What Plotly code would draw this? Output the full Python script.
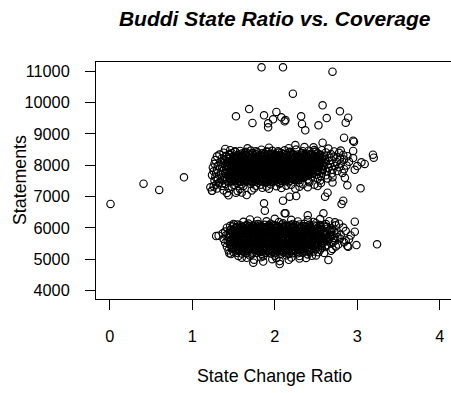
import plotly.graph_objects as go

# ---- data (State Change Ratio, Statements) ----
left_outliers = [(0.01, 6763), (0.41, 7411), (0.60, 7210), (0.90, 7615)]

high_outliers = [
    (1.84, 11127), (2.10, 11127), (2.70, 10986), (2.22, 10284), (1.69, 9795),
    (1.53, 9562), (1.73, 9349), (1.87, 9594), (1.92, 9339), (1.92, 9211),
    (1.98, 9467), (2.02, 9700), (2.08, 9531), (2.12, 9403), (2.13, 9444),
    (2.32, 9562), (2.33, 9317), (2.37, 9115), (2.53, 9275), (2.58, 9914),
    (2.63, 9508), (2.79, 9722), (2.86, 9358), (2.89, 9518), (2.84, 8879),
    (2.95, 8783), (2.25, 8646), (2.58, 8720), (3.19, 8337), (3.20, 8241),
    (3.09, 8040), (2.95, 8455), (2.96, 8752), (2.47, 8573), (2.48, 8486),
]

middle_points = [
    (1.24, 7187), (1.22, 7296), (1.32, 7423), (1.44, 7040), (1.53, 7123),
    (1.66, 7050), (1.87, 6785), (1.88, 6549), (2.10, 6868), (2.18, 6996),
    (2.26, 7018), (2.61, 6996), (2.64, 7123), (2.83, 6868), (2.81, 6762),
    (2.88, 7360), (3.04, 7264), (2.12, 6466), (2.13, 6466), (2.40, 6402),
    (2.59, 6466),
]

lower_outliers = [
    (1.32, 5750), (1.29, 5741), (1.37, 5827), (3.24, 5476), (2.65, 4975),
    (2.06, 4847), (1.74, 4888), (1.79, 6229), (1.51, 6101), (2.73, 6178),
    (2.97, 6198), (2.99, 5454), (2.89, 5400), (1.45, 5189), (2.97, 5878),
]

edge_points = [
    (1.40, 8520), (1.67, 8540), (1.93, 8560), (2.17, 8545), (2.36, 8580), (2.65, 8530), (2.80, 8470),
    (1.85, 7280), (2.25, 7250), (2.40, 7300), (2.70, 7450), (2.85, 7600),
    (1.70, 6270), (2.00, 6290), (2.20, 6260), (2.40, 6250), (2.55, 6280),
    (1.60, 5050), (2.30, 5020), (2.50, 5120), (2.60, 5200),
]

upper_cluster = [
    (1.46, 8480), (1.58, 8455), (1.71, 8470), (1.84, 8495), (1.97, 8460), (2.12, 8475), (2.26, 8500), (2.41, 8465), (2.57, 8480), (2.72, 8440),
    (1.38, 8400), (1.52, 8425), (1.64, 8395), (1.79, 8415), (1.92, 8430), (2.05, 8405), (2.19, 8420), (2.33, 8390), (2.47, 8425), (2.62, 8410), (2.78, 8395),
    (1.33, 8340), (1.45, 8360), (1.56, 8345), (1.68, 8370), (1.77, 8350), (1.88, 8365), (1.99, 8340), (2.10, 8355), (2.22, 8370), (2.31, 8345), (2.44, 8360), (2.55, 8340), (2.68, 8355), (2.83, 8330),
    (1.30, 8285), (1.41, 8300), (1.50, 8280), (1.60, 8295), (1.70, 8305), (1.80, 8275), (1.90, 8290), (2.00, 8310), (2.09, 8280), (2.18, 8295), (2.28, 8270), (2.38, 8300), (2.49, 8285), (2.60, 8305), (2.72, 8275), (2.88, 8290),
    (1.36, 8225), (1.46, 8240), (1.55, 8215), (1.63, 8235), (1.72, 8245), (1.81, 8220), (1.89, 8230), (1.97, 8250), (2.06, 8215), (2.15, 8235), (2.24, 8225), (2.33, 8245), (2.43, 8210), (2.54, 8230), (2.66, 8240), (2.79, 8215), (2.95, 8230),
    (1.28, 8165), (1.39, 8180), (1.49, 8160), (1.58, 8175), (1.66, 8185), (1.74, 8155), (1.83, 8170), (1.91, 8190), (2.00, 8160), (2.08, 8175), (2.17, 8150), (2.26, 8180), (2.35, 8165), (2.45, 8185), (2.56, 8155), (2.69, 8170), (2.84, 8180),
    (1.34, 8105), (1.44, 8120), (1.53, 8095), (1.61, 8115), (1.69, 8125), (1.78, 8100), (1.86, 8110), (1.95, 8130), (2.03, 8095), (2.12, 8115), (2.21, 8105), (2.30, 8125), (2.40, 8090), (2.50, 8110), (2.62, 8120), (2.75, 8100), (2.90, 8115), (3.05, 8095),
    (1.27, 8045), (1.38, 8060), (1.48, 8035), (1.57, 8055), (1.65, 8065), (1.73, 8040), (1.82, 8050), (1.90, 8070), (1.99, 8035), (2.07, 8055), (2.16, 8045), (2.25, 8065), (2.34, 8030), (2.44, 8050), (2.55, 8060), (2.67, 8040), (2.80, 8055),
    (1.31, 7985), (1.42, 8000), (1.52, 7975), (1.60, 7995), (1.68, 8005), (1.77, 7980), (1.85, 7990), (1.94, 8010), (2.02, 7975), (2.11, 7995), (2.20, 7985), (2.29, 8005), (2.39, 7970), (2.49, 7990), (2.60, 8000), (2.73, 7980), (2.87, 7995), (3.00, 7975),
    (1.25, 7925), (1.36, 7940), (1.47, 7915), (1.56, 7935), (1.64, 7945), (1.72, 7920), (1.81, 7930), (1.89, 7950), (1.98, 7915), (2.06, 7935), (2.15, 7925), (2.24, 7945), (2.33, 7910), (2.43, 7930), (2.53, 7940), (2.65, 7920), (2.78, 7935),
    (1.30, 7865), (1.41, 7880), (1.51, 7855), (1.59, 7875), (1.67, 7885), (1.76, 7860), (1.84, 7870), (1.93, 7890), (2.01, 7855), (2.10, 7875), (2.19, 7865), (2.28, 7885), (2.37, 7850), (2.47, 7870), (2.58, 7880), (2.70, 7860), (2.84, 7875), (2.97, 7855),
    (1.26, 7805), (1.37, 7820), (1.46, 7795), (1.55, 7815), (1.63, 7825), (1.71, 7800), (1.80, 7810), (1.88, 7830), (1.97, 7795), (2.05, 7815), (2.14, 7805), (2.23, 7825), (2.32, 7790), (2.42, 7810), (2.52, 7820), (2.63, 7800), (2.76, 7815),
    (1.29, 7745), (1.40, 7760), (1.50, 7735), (1.58, 7755), (1.66, 7765), (1.75, 7740), (1.83, 7750), (1.92, 7770), (2.00, 7735), (2.09, 7755), (2.18, 7745), (2.27, 7765), (2.36, 7730), (2.46, 7750), (2.57, 7760), (2.69, 7740), (2.82, 7755),
    (1.24, 7685), (1.35, 7700), (1.45, 7675), (1.54, 7695), (1.62, 7705), (1.70, 7680), (1.79, 7690), (1.87, 7710), (1.96, 7675), (2.04, 7695), (2.13, 7685), (2.22, 7705), (2.31, 7670), (2.41, 7690), (2.51, 7700), (2.62, 7680),
    (1.28, 7625), (1.39, 7640), (1.49, 7615), (1.57, 7635), (1.65, 7645), (1.74, 7620), (1.82, 7630), (1.91, 7650), (1.99, 7615), (2.08, 7635), (2.17, 7625), (2.26, 7645), (2.35, 7610), (2.45, 7630), (2.56, 7640), (2.70, 7620),
    (1.31, 7565), (1.42, 7580), (1.52, 7555), (1.60, 7575), (1.69, 7585), (1.78, 7560), (1.86, 7570), (1.95, 7590), (2.03, 7555), (2.12, 7575), (2.21, 7565), (2.30, 7585), (2.40, 7550), (2.52, 7570), (2.64, 7580),
    (1.27, 7505), (1.37, 7520), (1.47, 7495), (1.56, 7515), (1.64, 7525), (1.73, 7500), (1.81, 7510), (1.90, 7530), (1.99, 7495), (2.08, 7515), (2.18, 7505), (2.29, 7525), (2.41, 7490), (2.55, 7510),
    (1.33, 7445), (1.44, 7460), (1.54, 7435), (1.63, 7455), (1.72, 7465), (1.80, 7440), (1.89, 7450), (1.98, 7470), (2.07, 7435), (2.17, 7455), (2.30, 7445), (2.42, 7460), (2.56, 7430),
    (1.29, 7385), (1.40, 7400), (1.50, 7375), (1.60, 7395), (1.71, 7405), (1.83, 7380), (1.95, 7390), (2.06, 7410), (2.20, 7375), (2.34, 7395), (2.48, 7380),
    (1.26, 7325), (1.36, 7340), (1.48, 7315), (1.62, 7335), (1.77, 7345), (1.90, 7320), (2.02, 7330), (2.14, 7350), (2.30, 7315), (2.52, 7335),
    (1.30, 7255), (1.44, 7270), (1.58, 7245), (1.75, 7265), (1.93, 7250), (2.08, 7275),
    (1.24, 7185), (1.38, 7200), (1.55, 7175), (1.72, 7195),
    (1.42, 7115), (1.60, 7130),
]

upper_core = [
    (1.52, 8445), (1.65, 8430), (1.77, 8450), (1.90, 8435), (2.04, 8445), (2.18, 8430), (2.34, 8450), (2.50, 8435),
    (1.48, 8385), (1.60, 8375), (1.73, 8390), (1.85, 8380), (1.97, 8370), (2.08, 8390), (2.20, 8380), (2.38, 8375), (2.52, 8385),
    (1.45, 8325), (1.55, 8315), (1.65, 8330), (1.75, 8320), (1.85, 8310), (1.95, 8325), (2.05, 8315), (2.14, 8330), (2.23, 8320), (2.33, 8310), (2.43, 8325), (2.55, 8315),
    (1.41, 8265), (1.51, 8255), (1.59, 8270), (1.68, 8260), (1.76, 8250), (1.85, 8265), (1.94, 8255), (2.02, 8270), (2.11, 8260), (2.20, 8250), (2.29, 8265), (2.38, 8255), (2.48, 8270), (2.59, 8260),
    (1.44, 8205), (1.54, 8195), (1.62, 8210), (1.70, 8200), (1.79, 8190), (1.87, 8205), (1.96, 8195), (2.04, 8210), (2.13, 8200), (2.22, 8190), (2.31, 8205), (2.40, 8195), (2.50, 8210), (2.61, 8200),
    (1.39, 8145), (1.48, 8135), (1.57, 8150), (1.65, 8140), (1.74, 8130), (1.82, 8145), (1.91, 8135), (1.99, 8150), (2.08, 8140), (2.17, 8130), (2.26, 8145), (2.35, 8135), (2.45, 8150), (2.56, 8140),
    (1.43, 8085), (1.52, 8075), (1.61, 8090), (1.69, 8080), (1.78, 8070), (1.86, 8085), (1.95, 8075), (2.03, 8090), (2.12, 8080), (2.21, 8070), (2.30, 8085), (2.39, 8075), (2.49, 8090), (2.60, 8080),
    (1.46, 8025), (1.56, 8015), (1.64, 8030), (1.73, 8020), (1.81, 8010), (1.90, 8025), (1.98, 8015), (2.07, 8030), (2.16, 8020), (2.25, 8010), (2.34, 8025), (2.44, 8015), (2.55, 8030),
    (1.42, 7965), (1.51, 7955), (1.60, 7970), (1.68, 7960), (1.77, 7950), (1.85, 7965), (1.94, 7955), (2.02, 7970), (2.11, 7960), (2.20, 7950), (2.29, 7965), (2.38, 7955), (2.48, 7970), (2.59, 7960),
    (1.45, 7905), (1.55, 7895), (1.63, 7910), (1.72, 7900), (1.80, 7890), (1.89, 7905), (1.97, 7895), (2.06, 7910), (2.15, 7900), (2.24, 7890), (2.33, 7905), (2.42, 7895), (2.52, 7910),
    (1.41, 7845), (1.50, 7835), (1.59, 7850), (1.67, 7840), (1.76, 7830), (1.84, 7845), (1.93, 7835), (2.01, 7850), (2.10, 7840), (2.19, 7830), (2.28, 7845), (2.37, 7835), (2.47, 7850), (2.58, 7840),
    (1.44, 7785), (1.54, 7775), (1.62, 7790), (1.71, 7780), (1.79, 7770), (1.88, 7785), (1.96, 7775), (2.05, 7790), (2.14, 7780), (2.23, 7770), (2.32, 7785), (2.41, 7775), (2.51, 7790),
    (1.40, 7725), (1.49, 7715), (1.58, 7730), (1.66, 7720), (1.75, 7710), (1.83, 7725), (1.92, 7715), (2.00, 7730), (2.09, 7720), (2.18, 7710), (2.27, 7725), (2.36, 7715), (2.46, 7730),
    (1.43, 7665), (1.53, 7655), (1.61, 7670), (1.70, 7660), (1.78, 7650), (1.87, 7665), (1.95, 7655), (2.04, 7670), (2.13, 7660), (2.22, 7650), (2.31, 7665), (2.40, 7655),
    (1.46, 7605), (1.56, 7595), (1.65, 7610), (1.73, 7600), (1.82, 7590), (1.90, 7605), (1.99, 7595), (2.08, 7610), (2.17, 7600), (2.26, 7590), (2.35, 7605),
    (1.42, 7545), (1.51, 7535), (1.60, 7550), (1.69, 7540), (1.77, 7530), (1.86, 7545), (1.95, 7535), (2.04, 7550), (2.14, 7540), (2.24, 7530),
    (1.48, 7485), (1.58, 7475), (1.68, 7490), (1.77, 7480), (1.86, 7470), (1.95, 7485), (2.04, 7475), (2.13, 7490),
]

upper_dense = [
    (1.64, 8335), (1.73, 8345), (1.83, 8328), (1.92, 8340), (2.01, 8332), (2.10, 8346), (2.19, 8330), (2.28, 8342), (2.37, 8334), (2.46, 8344),
    (1.55, 8275), (1.645, 8284), (1.74, 8268), (1.83, 8280), (1.915, 8272), (2.005, 8286), (2.095, 8270), (2.185, 8282), (2.275, 8274), (2.365, 8285), (2.455, 8268), (2.54, 8279),
    (1.50, 8215), (1.585, 8224), (1.675, 8208), (1.765, 8220), (1.855, 8212), (1.935, 8226), (2.025, 8210), (2.115, 8222), (2.205, 8214), (2.295, 8225), (2.385, 8208), (2.475, 8219), (2.57, 8212),
    (1.53, 8155), (1.62, 8164), (1.705, 8148), (1.795, 8160), (1.875, 8152), (1.955, 8166), (2.045, 8150), (2.13, 8162), (2.22, 8154), (2.31, 8165), (2.40, 8148), (2.50, 8159),
    (1.48, 8095), (1.57, 8104), (1.655, 8088), (1.74, 8100), (1.825, 8092), (1.905, 8106), (1.99, 8090), (2.075, 8102), (2.165, 8094), (2.255, 8105), (2.345, 8088), (2.445, 8099), (2.55, 8092),
    (1.52, 8035), (1.605, 8044), (1.69, 8028), (1.775, 8040), (1.86, 8032), (1.945, 8046), (2.03, 8030), (2.115, 8042), (2.205, 8034), (2.295, 8045), (2.39, 8028), (2.49, 8039),
    (1.47, 7975), (1.56, 7984), (1.645, 7968), (1.73, 7980), (1.815, 7972), (1.895, 7986), (1.98, 7970), (2.065, 7982), (2.155, 7974), (2.245, 7985), (2.335, 7968), (2.43, 7979), (2.54, 7972),
    (1.51, 7915), (1.595, 7924), (1.68, 7908), (1.765, 7920), (1.85, 7912), (1.935, 7926), (2.02, 7910), (2.105, 7922), (2.195, 7914), (2.285, 7925), (2.375, 7908), (2.475, 7919),
    (1.46, 7855), (1.55, 7864), (1.635, 7848), (1.72, 7860), (1.805, 7852), (1.885, 7866), (1.97, 7850), (2.055, 7862), (2.145, 7854), (2.235, 7865), (2.325, 7848), (2.42, 7859), (2.52, 7852),
    (1.50, 7795), (1.585, 7804), (1.67, 7788), (1.755, 7800), (1.84, 7792), (1.925, 7806), (2.01, 7790), (2.095, 7802), (2.185, 7794), (2.275, 7805), (2.365, 7788), (2.46, 7799),
    (1.45, 7735), (1.54, 7744), (1.625, 7728), (1.71, 7740), (1.795, 7732), (1.875, 7746), (1.96, 7730), (2.045, 7742), (2.135, 7734), (2.225, 7745), (2.315, 7728), (2.41, 7739),
    (1.49, 7675), (1.575, 7684), (1.66, 7668), (1.745, 7680), (1.83, 7672), (1.915, 7686), (2.00, 7670), (2.085, 7682), (2.175, 7674), (2.265, 7685), (2.355, 7668),
    (1.53, 7615), (1.615, 7624), (1.70, 7608), (1.785, 7620), (1.865, 7612), (1.95, 7626), (2.035, 7610), (2.125, 7622), (2.215, 7614), (2.305, 7625),
    (1.47, 7555), (1.56, 7564), (1.645, 7548), (1.73, 7560), (1.82, 7552), (1.905, 7566), (1.99, 7550), (2.08, 7562), (2.17, 7554), (2.26, 7565),
    (1.52, 7495), (1.63, 7504), (1.725, 7488), (1.815, 7500), (1.905, 7492), (1.995, 7506), (2.09, 7490),
]

lower_cluster = [
    (1.62, 6195), (1.90, 6210), (2.05, 6185), (2.28, 6205), (2.47, 6190), (2.66, 6215),
    (1.50, 6125), (1.68, 6140), (1.80, 6120), (1.95, 6135), (2.10, 6145), (2.22, 6125), (2.36, 6130), (2.50, 6150), (2.62, 6120), (2.78, 6135),
    (1.46, 6065), (1.58, 6080), (1.70, 6060), (1.82, 6075), (1.93, 6085), (2.03, 6060), (2.14, 6070), (2.25, 6090), (2.36, 6055), (2.48, 6075), (2.60, 6065), (2.74, 6080),
    (1.42, 6005), (1.53, 6020), (1.64, 5995), (1.74, 6015), (1.84, 6025), (1.94, 6000), (2.04, 6010), (2.13, 6030), (2.23, 5995), (2.33, 6015), (2.44, 6005), (2.56, 6025), (2.69, 5990), (2.83, 6010),
    (1.47, 5945), (1.57, 5960), (1.67, 5935), (1.77, 5955), (1.86, 5965), (1.96, 5940), (2.05, 5950), (2.15, 5970), (2.24, 5935), (2.34, 5955), (2.45, 5945), (2.57, 5965), (2.70, 5940),
    (1.40, 5885), (1.51, 5900), (1.60, 5875), (1.70, 5895), (1.79, 5905), (1.88, 5880), (1.98, 5890), (2.07, 5910), (2.16, 5875), (2.26, 5895), (2.36, 5885), (2.47, 5905), (2.59, 5870), (2.72, 5890), (2.86, 5900),
    (1.44, 5825), (1.55, 5840), (1.64, 5815), (1.73, 5835), (1.82, 5845), (1.91, 5820), (2.00, 5830), (2.09, 5850), (2.18, 5815), (2.28, 5835), (2.38, 5825), (2.49, 5845), (2.61, 5810), (2.75, 5830),
    (1.41, 5765), (1.52, 5780), (1.61, 5755), (1.70, 5775), (1.79, 5785), (1.88, 5760), (1.97, 5770), (2.06, 5790), (2.15, 5755), (2.24, 5775), (2.34, 5765), (2.44, 5785), (2.55, 5750), (2.67, 5770), (2.80, 5780), (2.92, 5760),
    (1.45, 5705), (1.56, 5720), (1.65, 5695), (1.74, 5715), (1.83, 5725), (1.92, 5700), (2.01, 5710), (2.10, 5730), (2.19, 5695), (2.29, 5715), (2.39, 5705), (2.50, 5725), (2.62, 5690), (2.76, 5710),
    (1.38, 5645), (1.49, 5660), (1.59, 5635), (1.68, 5655), (1.77, 5665), (1.86, 5640), (1.95, 5650), (2.04, 5670), (2.13, 5635), (2.22, 5655), (2.32, 5645), (2.42, 5665), (2.53, 5630), (2.65, 5650), (2.79, 5660), (2.90, 5640),
    (1.43, 5585), (1.54, 5600), (1.63, 5575), (1.72, 5595), (1.81, 5605), (1.90, 5580), (1.99, 5590), (2.08, 5610), (2.17, 5575), (2.27, 5595), (2.37, 5585), (2.48, 5605), (2.60, 5570), (2.73, 5590), (2.86, 5600),
    (1.40, 5525), (1.51, 5540), (1.61, 5515), (1.70, 5535), (1.79, 5545), (1.88, 5520), (1.97, 5530), (2.06, 5550), (2.15, 5515), (2.25, 5535), (2.35, 5525), (2.46, 5545), (2.57, 5510), (2.70, 5530), (2.84, 5540),
    (1.46, 5465), (1.57, 5480), (1.66, 5455), (1.75, 5475), (1.84, 5485), (1.93, 5460), (2.02, 5470), (2.11, 5490), (2.20, 5455), (2.30, 5475), (2.40, 5465), (2.51, 5485), (2.63, 5450), (2.77, 5470),
    (1.42, 5405), (1.53, 5420), (1.63, 5395), (1.72, 5415), (1.81, 5425), (1.90, 5400), (1.99, 5410), (2.08, 5430), (2.18, 5395), (2.28, 5415), (2.38, 5405), (2.49, 5425), (2.61, 5390), (2.74, 5410), (2.88, 5420),
    (1.48, 5345), (1.59, 5360), (1.68, 5335), (1.77, 5355), (1.86, 5365), (1.95, 5340), (2.04, 5350), (2.14, 5370), (2.24, 5335), (2.34, 5355), (2.45, 5345), (2.57, 5365), (2.70, 5330),
    (1.44, 5285), (1.56, 5300), (1.66, 5275), (1.76, 5295), (1.85, 5305), (1.94, 5280), (2.03, 5290), (2.12, 5310), (2.22, 5275), (2.32, 5295), (2.43, 5285), (2.55, 5305), (2.68, 5270),
    (1.50, 5225), (1.62, 5240), (1.73, 5215), (1.83, 5235), (1.92, 5245), (2.01, 5220), (2.10, 5230), (2.20, 5250), (2.30, 5215), (2.41, 5235), (2.53, 5225),
    (1.47, 5165), (1.60, 5180), (1.72, 5155), (1.84, 5175), (1.95, 5185), (2.06, 5160), (2.17, 5170), (2.28, 5190), (2.40, 5155),
    (1.56, 5105), (1.70, 5120), (1.86, 5095), (2.00, 5115), (2.14, 5125), (2.30, 5100), (2.45, 5110),
    (1.66, 5045), (1.83, 5060), (2.02, 5035), (2.20, 5055), (2.38, 5040),
    (1.75, 4985), (1.97, 5000), (2.17, 4980),
    (1.86, 4925), (2.06, 4940),
]

lower_core = [
    (1.55, 6105), (1.66, 6095), (1.76, 6110), (1.88, 6100), (1.99, 6090), (2.09, 6105), (2.19, 6095), (2.30, 6110), (2.42, 6100), (2.55, 6090),
    (1.49, 6045), (1.59, 6035), (1.69, 6050), (1.79, 6040), (1.89, 6030), (1.99, 6045), (2.09, 6035), (2.18, 6050), (2.28, 6040), (2.38, 6030), (2.50, 6045), (2.63, 6035),
    (1.52, 5985), (1.62, 5975), (1.72, 5990), (1.81, 5980), (1.91, 5970), (2.00, 5985), (2.10, 5975), (2.19, 5990), (2.29, 5980), (2.39, 5970), (2.51, 5985), (2.64, 5975),
    (1.46, 5925), (1.56, 5915), (1.65, 5930), (1.75, 5920), (1.84, 5910), (1.93, 5925), (2.02, 5915), (2.12, 5930), (2.21, 5920), (2.31, 5910), (2.41, 5925), (2.53, 5915), (2.66, 5930),
    (1.50, 5865), (1.60, 5855), (1.69, 5870), (1.78, 5860), (1.87, 5850), (1.96, 5865), (2.05, 5855), (2.14, 5870), (2.23, 5860), (2.33, 5850), (2.43, 5865), (2.55, 5855), (2.68, 5870),
    (1.47, 5805), (1.57, 5795), (1.66, 5810), (1.75, 5800), (1.84, 5790), (1.93, 5805), (2.02, 5795), (2.11, 5810), (2.20, 5800), (2.29, 5790), (2.39, 5805), (2.50, 5795), (2.62, 5810),
    (1.51, 5745), (1.61, 5735), (1.70, 5750), (1.79, 5740), (1.88, 5730), (1.97, 5745), (2.06, 5735), (2.15, 5750), (2.24, 5740), (2.34, 5730), (2.44, 5745), (2.56, 5735), (2.69, 5750),
    (1.44, 5685), (1.54, 5675), (1.64, 5690), (1.73, 5680), (1.82, 5670), (1.91, 5685), (2.00, 5675), (2.09, 5690), (2.18, 5680), (2.27, 5670), (2.37, 5685), (2.47, 5675), (2.59, 5690), (2.72, 5680),
    (1.49, 5625), (1.59, 5615), (1.68, 5630), (1.77, 5620), (1.86, 5610), (1.95, 5625), (2.04, 5615), (2.13, 5630), (2.22, 5620), (2.32, 5610), (2.42, 5625), (2.54, 5615), (2.66, 5630),
    (1.46, 5565), (1.56, 5555), (1.66, 5570), (1.75, 5560), (1.84, 5550), (1.93, 5565), (2.02, 5555), (2.11, 5570), (2.20, 5560), (2.30, 5550), (2.40, 5565), (2.52, 5555), (2.64, 5570),
    (1.51, 5505), (1.61, 5495), (1.71, 5510), (1.80, 5500), (1.89, 5490), (1.98, 5505), (2.07, 5495), (2.16, 5510), (2.25, 5500), (2.35, 5490), (2.45, 5505), (2.57, 5495),
    (1.48, 5445), (1.58, 5435), (1.68, 5450), (1.77, 5440), (1.86, 5430), (1.95, 5445), (2.04, 5435), (2.13, 5450), (2.23, 5440), (2.33, 5430), (2.44, 5445), (2.56, 5435),
    (1.53, 5385), (1.63, 5375), (1.73, 5390), (1.82, 5380), (1.91, 5370), (2.00, 5385), (2.09, 5375), (2.19, 5390), (2.29, 5380), (2.40, 5370), (2.52, 5385),
    (1.50, 5325), (1.61, 5315), (1.71, 5330), (1.81, 5320), (1.90, 5310), (1.99, 5325), (2.08, 5315), (2.18, 5330), (2.28, 5320), (2.39, 5310), (2.50, 5325),
    (1.56, 5265), (1.67, 5255), (1.78, 5270), (1.88, 5260), (1.97, 5250), (2.06, 5265), (2.15, 5255), (2.25, 5270), (2.36, 5260), (2.47, 5250),
    (1.54, 5205), (1.66, 5195), (1.78, 5210), (1.89, 5200), (2.00, 5190), (2.11, 5205), (2.22, 5195), (2.34, 5210),
]

lower_dense = [
    (1.64, 6055), (1.74, 6064), (1.84, 6048), (1.94, 6060), (2.04, 6052), (2.135, 6066), (2.23, 6050), (2.33, 6062), (2.43, 6054),
    (1.57, 5995), (1.665, 6004), (1.755, 5988), (1.85, 6000), (1.945, 5992), (2.04, 6006), (2.13, 5990), (2.225, 6002), (2.32, 5994), (2.42, 6005), (2.52, 5988),
    (1.515, 5935), (1.605, 5944), (1.70, 5928), (1.79, 5940), (1.885, 5932), (1.975, 5946), (2.07, 5930), (2.16, 5942), (2.255, 5934), (2.35, 5945), (2.455, 5928), (2.56, 5939),
    (1.55, 5875), (1.645, 5884), (1.735, 5868), (1.825, 5880), (1.915, 5872), (2.005, 5886), (2.095, 5870), (2.185, 5882), (2.28, 5874), (2.38, 5885), (2.49, 5868), (2.60, 5879),
    (1.515, 5815), (1.61, 5824), (1.70, 5808), (1.79, 5820), (1.88, 5812), (1.97, 5826), (2.06, 5810), (2.15, 5822), (2.24, 5814), (2.335, 5825), (2.44, 5808), (2.55, 5819),
    (1.56, 5755), (1.655, 5764), (1.745, 5748), (1.835, 5760), (1.925, 5752), (2.015, 5766), (2.105, 5750), (2.195, 5762), (2.29, 5754), (2.39, 5765), (2.50, 5748), (2.61, 5759),
    (1.50, 5695), (1.595, 5704), (1.685, 5688), (1.775, 5700), (1.865, 5692), (1.955, 5706), (2.045, 5690), (2.135, 5702), (2.225, 5694), (2.32, 5705), (2.42, 5688), (2.53, 5699), (2.65, 5692),
    (1.54, 5635), (1.635, 5644), (1.725, 5628), (1.815, 5640), (1.905, 5632), (1.995, 5646), (2.085, 5630), (2.175, 5642), (2.27, 5634), (2.37, 5645), (2.48, 5628), (2.60, 5639),
    (1.51, 5575), (1.61, 5584), (1.705, 5568), (1.795, 5580), (1.885, 5572), (1.975, 5586), (2.065, 5570), (2.155, 5582), (2.25, 5574), (2.35, 5585), (2.46, 5568), (2.58, 5579),
    (1.56, 5515), (1.655, 5524), (1.75, 5508), (1.84, 5520), (1.93, 5512), (2.02, 5526), (2.11, 5510), (2.205, 5522), (2.30, 5514), (2.40, 5525), (2.51, 5508),
    (1.53, 5455), (1.63, 5464), (1.725, 5448), (1.815, 5460), (1.905, 5452), (1.995, 5466), (2.085, 5450), (2.18, 5462), (2.28, 5454), (2.385, 5465), (2.50, 5448),
    (1.58, 5395), (1.68, 5404), (1.775, 5388), (1.865, 5400), (1.955, 5392), (2.045, 5406), (2.14, 5390), (2.24, 5402), (2.345, 5394), (2.46, 5405),
    (1.55, 5335), (1.655, 5344), (1.76, 5328), (1.855, 5340), (1.945, 5332), (2.035, 5346), (2.13, 5330), (2.23, 5342), (2.335, 5334), (2.445, 5345),
    (1.61, 5275), (1.72, 5284), (1.83, 5268), (1.925, 5280), (2.015, 5272), (2.105, 5286), (2.20, 5270), (2.305, 5282), (2.41, 5274),
]

x_ticks = [0, 1, 2, 3, 4]
y_ticks = [4000, 5000, 6000, 7000, 8000, 9000, 10000, 11000]

groups = [left_outliers, high_outliers, middle_points, lower_outliers, edge_points,
          upper_cluster, upper_core, upper_dense,
          lower_cluster, lower_core, lower_dense]
ratio = [p[0] for g in groups for p in g]
statements = [p[1] for g in groups for p in g]

FONT = "Liberation Sans, Arial, Helvetica, sans-serif"

fig = go.Figure()
fig.add_trace(go.Scatter(
    x=ratio, y=statements, mode="markers",
    marker=dict(symbol="circle-open", size=7.4, color="black",
                line=dict(color="black", width=1.15)),
    showlegend=False, hoverinfo="skip",
))

W, H = 451, 393
L, R, T, B = 96, 0, 62, 94

fig.update_layout(
    width=W, height=H,
    margin=dict(l=L, r=R, t=T, b=B, pad=0),
    plot_bgcolor="white", paper_bgcolor="white",
    font=dict(family=FONT, color="black", size=16),
    title=dict(text="<b><i>Buddi State Ratio vs. Coverage</i></b>",
               x=274.7 / W, xref="container", xanchor="center",
               y=1 - 18.5 / H, yref="container", yanchor="middle",
               font=dict(family=FONT, size=21, color="black")),
    xaxis=dict(range=[-0.166, 4.136], tickvals=x_ticks,
               ticktext=[str(v) for v in x_ticks],
               showgrid=False, zeroline=False,
               showline=True, linecolor="black", linewidth=1, mirror=True,
               ticks="outside", ticklen=10, tickcolor="black", tickwidth=1,
               tickfont=dict(family=FONT, size=16.3, color="black"),
               ticklabelstandoff=12),
    yaxis=dict(range=[3730, 11296], tickvals=y_ticks,
               ticktext=[str(v) for v in y_ticks],
               showgrid=False, zeroline=False,
               showline=True, linecolor="black", linewidth=1,
               ticks="outside", ticklen=10, tickcolor="black", tickwidth=1,
               tickfont=dict(family=FONT, size=16.3, color="black"),
               ticklabelstandoff=12),
    annotations=[
        dict(text="State Change Ratio", xref="paper", yref="paper",
             x=(274.7 - L) / (W - L - R), y=-(376 - (H - B)) / (H - T - B),
             xanchor="center", yanchor="middle", showarrow=False,
             font=dict(family=FONT, size=17.8, color="black")),
        dict(text="Statements", xref="paper", yref="paper",
             x=(19.5 - L) / (W - L - R), y=0.5, textangle=-90,
             xanchor="center", yanchor="middle", showarrow=False,
             font=dict(family=FONT, size=17.8, color="black")),
    ],
)

fig.write_html("out.html",
               config={"displayModeBar": False},
               post_script="document.body.style.margin='0';"
                           "document.body.style.overflow='hidden';")
